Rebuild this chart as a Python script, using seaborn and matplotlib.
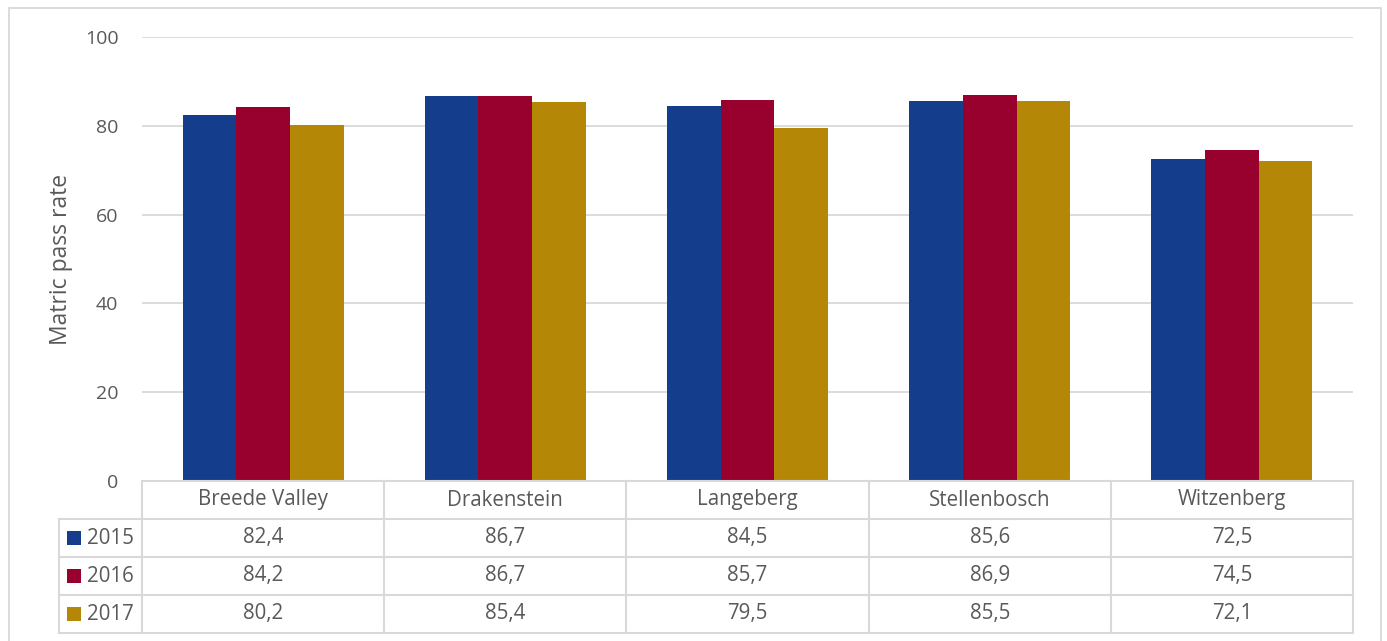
import matplotlib
matplotlib.use("Agg")
import matplotlib.pyplot as plt
import seaborn as sns
import pandas as pd
from matplotlib.patches import Rectangle
from matplotlib.lines import Line2D

categories = ["Breede Valley", "Drakenstein", "Langeberg", "Stellenbosch", "Witzenberg"]
years = ["2015", "2016", "2017"]
values_2015 = [82.4, 86.7, 84.5, 85.6, 72.5]
values_2016 = [84.2, 86.7, 85.7, 86.9, 74.5]
values_2017 = [80.2, 85.4, 79.5, 85.5, 72.1]
yticks = [0, 20, 40, 60, 80, 100]
colors = ["#143e8c", "#98002e", "#b48806"]

series = [values_2015, values_2016, values_2017]
df = pd.DataFrame({
    "municipality": categories * 3,
    "year": sum([[y] * len(categories) for y in years], []),
    "rate": values_2015 + values_2016 + values_2017,
})

sns.set_theme(style="white")
plt.rcParams["font.family"] = ["Open Sans", "DejaVu Sans"]
text_color = "#595959"
grid_color = "#d9d9d9"
fs = 14.8

W, H = 1387, 641
fig = plt.figure(figsize=(W / 100, H / 100), dpi=100)
ax_l, ax_r, ax_t, ax_b = 142, 1353, 37, 481
ax = fig.add_axes([ax_l / W, 1 - ax_b / H, (ax_r - ax_l) / W, (ax_b - ax_t) / H])

sns.barplot(data=df, x="municipality", y="rate", hue="year", order=categories,
            hue_order=years, palette=colors, width=0.665, gap=0, saturation=1,
            edgecolor="none", linewidth=0, legend=False, ax=ax, zorder=3)

ax.set_ylim(0, 100)
ax.set_xlim(-0.5, len(categories) - 0.5)
ax.set_yticks(yticks)
ax.set_yticklabels([str(t) for t in yticks], fontsize=14, color=text_color)
ax.tick_params(axis="y", length=0, pad=17)
ax.set_xticks([])
ax.set_xlabel("")
ax.set_ylabel("Matric pass rate", fontsize=16.5, color=text_color)
ax.yaxis.label.set_va("center")
ax.yaxis.set_label_coords((61 - ax_l) / (ax_r - ax_l), 0.5)
ax.grid(axis="y", color=grid_color, linewidth=1.3, zorder=0)
ax.set_axisbelow(True)
for s in ax.spines.values():
    s.set_visible(False)

# Outer frame
fig.patches.append(Rectangle((9 / W, -0.02), (1381 - 9) / W, 1.02 - 8 / H,
                             transform=fig.transFigure, fill=False,
                             edgecolor=grid_color, linewidth=1.3))

# Data table below the axes
def fx(px):
    return px / W

def fy(py):
    return 1 - py / H

col_w = (ax_r - ax_l) / len(categories)
row_h = 38
leg_l = 59
rows_y = [ax_b + row_h * i for i in range(5)]  # 481, 519, 557, 595, 633
lw = 1.5

def hline(x0, x1, y):
    fig.add_artist(Line2D([fx(x0), fx(x1)], [fy(y), fy(y)], color=grid_color, lw=lw,
                          transform=fig.transFigure))

def vline(x, y0, y1):
    fig.add_artist(Line2D([fx(x), fx(x)], [fy(y0), fy(y1)], color=grid_color, lw=lw,
                          transform=fig.transFigure))

hline(ax_l, ax_r, rows_y[0])
for y in rows_y[1:]:
    hline(leg_l, ax_r, y)
for k in range(len(categories) + 1):
    vline(ax_l + k * col_w, rows_y[0], rows_y[-1])
vline(leg_l, rows_y[1], rows_y[-1])

for k, cat in enumerate(categories):
    cx = ax_l + (k + 0.5) * col_w
    fig.text(fx(cx), fy((rows_y[0] + rows_y[1]) / 2), cat, ha="center", va="center",
             fontsize=fs, color=text_color)
    for r, vals in enumerate(series):
        cy = (rows_y[r + 1] + rows_y[r + 2]) / 2
        fig.text(fx(cx), fy(cy), f"{vals[k]:.1f}".replace(".", ","), ha="center",
                 va="center", fontsize=fs, color=text_color)

for r, (yr, c) in enumerate(zip(years, colors)):
    cy = (rows_y[r + 1] + rows_y[r + 2]) / 2
    sq = 14
    fig.patches.append(Rectangle((fx(67), fy(cy + sq / 2)), sq / W, sq / H,
                                 transform=fig.transFigure, facecolor=c, edgecolor="none"))
    fig.text(fx(87), fy(cy), yr, ha="left", va="center", fontsize=fs, color=text_color)

fig.savefig("out.png", dpi=100)
